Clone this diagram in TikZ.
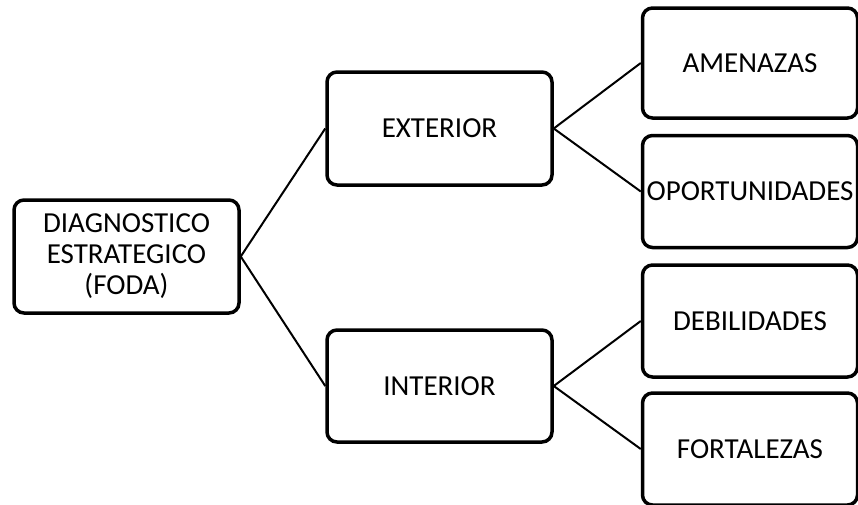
\documentclass[tikz,border=0pt]{standalone}
\usepackage{fontspec}
\setmainfont{Carlito}
\begin{document}
\begin{tikzpicture}[x=1pt,y=-1pt,
  box/.style={draw=black, rounded corners=10pt, line width=3.5pt,
    inner sep=0pt, align=center, minimum width=225pt, minimum height=113pt,
    font=\fontsize{29}{31}\selectfont},
  leaf/.style={box, minimum width=215pt, minimum height=112pt},
  link/.style={draw=black, line width=2pt}]
  \useasboundingbox (0,0) rectangle (858,504);

  % root and the two branches
  \node[box] (diag) at (126.5,256.5) {DIAGNOSTICO\\ESTRATEGICO\\(FODA)};
  \node[box] (ext)  at (439.5,128.5) {EXTERIOR};
  \node[box, minimum height=112pt] (int) at (439.5,386) {INTERIOR};

  % leaves, partly cut by the right and bottom edges of the page
  \node[leaf, minimum height=110pt] (ame) at (750,63) {AMENAZAS};
  \node[leaf] (opo) at (750,191.5) {\makebox[0pt]{OPORTUNIDADES}};
  \node[leaf] (deb) at (750,321) {DEBILIDADES};
  \node[leaf] (fort) at (750,449) {FORTALEZAS};

  % connectors
  \draw[link] (diag.east) -- (ext.west);
  \draw[link] (diag.east) -- (int.west);
  \draw[link] (ext.east) -- (ame.west);
  \draw[link] (ext.east) -- (opo.west);
  \draw[link] (int.east) -- (deb.west);
  \draw[link] (int.east) -- (fort.west);
\end{tikzpicture}
\end{document}
